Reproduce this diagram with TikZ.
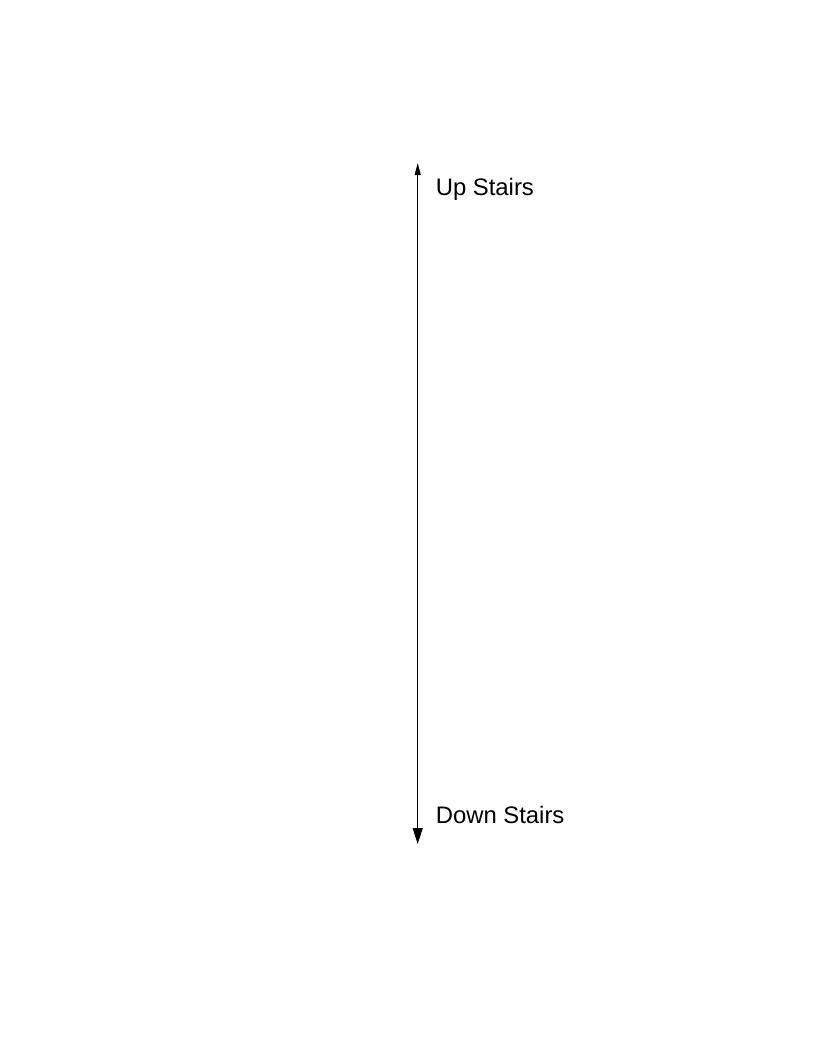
\documentclass[tikz,border=0pt]{standalone}
\usepackage{fontspec}
\setmainfont{Liberation Sans}
\usetikzlibrary{arrows.meta}
\tikzset{
  label text/.style={anchor=base west, inner sep=0pt, font=\fontsize{17.9pt}{21pt}\selectfont},
  stair line/.style={line width=0.8pt, black}
}
\begin{document}
\begin{tikzpicture}[x=0.75pt,y=-0.75pt]
\useasboundingbox (0,0) rectangle (816,1056);
\coordinate (top) at (417.7,163);
\coordinate (bottom) at (417.7,844);
\draw[stair line, {Triangle[length=9pt,width=4.5pt]}-{Triangle[length=12pt,width=7.5pt]}] (top) -- (bottom);
\node[label text] (up) at (435.5,195.5) {Up Stairs};
\node[label text] (down) at (435.5,823.5) {Down Stairs};
\end{tikzpicture}
\end{document}
